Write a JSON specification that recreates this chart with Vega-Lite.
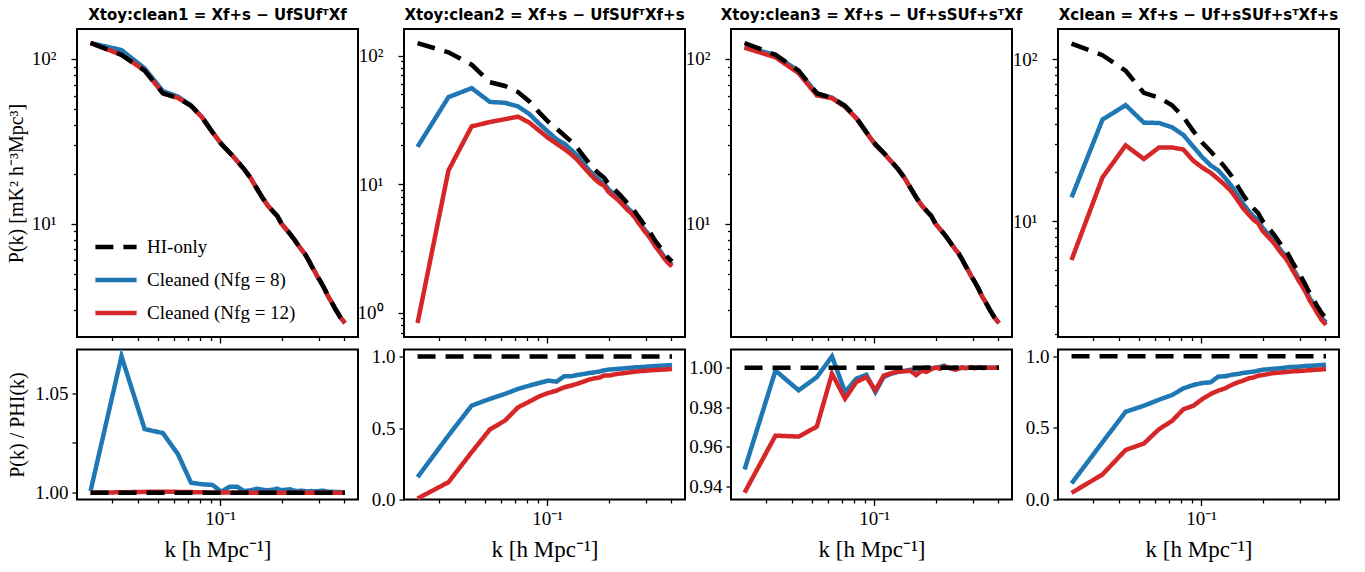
{
"$schema": "https://vega.github.io/schema/vega-lite/v6.json",
"background": "white",
"padding": {"left": 5, "top": 7, "right": 5, "bottom": 5},
"columns": 4,
"bounds": "flush",
"spacing": {"row": 12.5, "column": 46},
"resolve": {"scale": {"color": "independent", "strokeDash": "independent"}, "legend": {"color": "independent", "strokeDash": "independent"}},
"config": {
  "view": {"stroke": "black", "strokeWidth": 2},
  "axis": {"domain": false, "grid": false, "tickColor": "black", "tickWidth": 1.3, "labelFont": "Liberation Serif", "labelFontSize": 19, "labelColor": "black", "labelPadding": 4, "titleFont": "Liberation Serif", "titleColor": "black", "titleFontWeight": "normal", "titleFontSize": 20, "labelOverlap": false, "labelFlush": false, "labelBound": false},
  "title": {"font": "DejaVu Sans", "fontSize": 15, "fontWeight": "bold", "color": "black", "offset": 6},
  "line": {"strokeWidth": 4.5, "strokeCap": "butt", "clip": true}
},
"datasets": {
"top": [
{"p":1,"k":0.0235,"h":125,"b":125.1,"r":125},
{"p":1,"k":0.0332,"h":106,"b":113.3,"r":106},
{"p":1,"k":0.0430,"h":85,"b":87.7,"r":85.03},
{"p":1,"k":0.0527,"h":62,"b":63.9,"r":62.03},
{"p":1,"k":0.0624,"h":58,"b":59.1,"r":58.02},
{"p":1,"k":0.0722,"h":52,"b":52.3,"r":52},
{"p":1,"k":0.0819,"h":44,"b":44.2,"r":44},
{"p":1,"k":0.0916,"h":36,"b":36.1,"r":36},
{"p":1,"k":0.1013,"h":30.5,"b":30.5,"r":30.5},
{"p":1,"k":0.1111,"h":27,"b":27.1,"r":27},
{"p":1,"k":0.1208,"h":24,"b":24.1,"r":24},
{"p":1,"k":0.1305,"h":21.5,"b":21.5,"r":21.5},
{"p":1,"k":0.1403,"h":19,"b":19,"r":19},
{"p":1,"k":0.1500,"h":16.5,"b":16.5,"r":16.5},
{"p":1,"k":0.1597,"h":14.5,"b":14.5,"r":14.5},
{"p":1,"k":0.1695,"h":13,"b":13,"r":13},
{"p":1,"k":0.1792,"h":12,"b":12,"r":12},
{"p":1,"k":0.1889,"h":11.2,"b":11.2,"r":11.2},
{"p":1,"k":0.1986,"h":10,"b":10,"r":10},
{"p":1,"k":0.2084,"h":9.3,"b":9.3,"r":9.3},
{"p":1,"k":0.2181,"h":8.7,"b":8.7,"r":8.7},
{"p":1,"k":0.2278,"h":8.1,"b":8.1,"r":8.1},
{"p":1,"k":0.2376,"h":7.5,"b":7.5,"r":7.5},
{"p":1,"k":0.2473,"h":7.0,"b":7.0,"r":7.0},
{"p":1,"k":0.2570,"h":6.6,"b":6.6,"r":6.6},
{"p":1,"k":0.2668,"h":6.1,"b":6.1,"r":6.1},
{"p":1,"k":0.2765,"h":5.6,"b":5.6,"r":5.6},
{"p":1,"k":0.2862,"h":5.2,"b":5.2,"r":5.2},
{"p":1,"k":0.2959,"h":4.8,"b":4.8,"r":4.8},
{"p":1,"k":0.3057,"h":4.5,"b":4.5,"r":4.5},
{"p":1,"k":0.3154,"h":4.2,"b":4.2,"r":4.2},
{"p":1,"k":0.3251,"h":3.9,"b":3.9,"r":3.9},
{"p":1,"k":0.3349,"h":3.6,"b":3.6,"r":3.6},
{"p":1,"k":0.3446,"h":3.4,"b":3.4,"r":3.4},
{"p":1,"k":0.3543,"h":3.2,"b":3.2,"r":3.2},
{"p":1,"k":0.3641,"h":3.0,"b":3.0,"r":3.0},
{"p":1,"k":0.3738,"h":2.85,"b":2.85,"r":2.85},
{"p":1,"k":0.3835,"h":2.7,"b":2.7,"r":2.7},
{"p":1,"k":0.3932,"h":2.6,"b":2.6,"r":2.6},
{"p":1,"k":0.4030,"h":2.5,"b":2.5,"r":2.5},
{"p":2,"k":0.0235,"h":125,"b":19.5,"r":0.83},
{"p":2,"k":0.0332,"h":106,"b":47.5,"r":12.8},
{"p":2,"k":0.0430,"h":85,"b":55.8,"r":28.1},
{"p":2,"k":0.0527,"h":62,"b":43.6,"r":30.4},
{"p":2,"k":0.0624,"h":58,"b":42.9,"r":32.0},
{"p":2,"k":0.0722,"h":52,"b":40.2,"r":33.5},
{"p":2,"k":0.0819,"h":44,"b":35.1,"r":30.1},
{"p":2,"k":0.0916,"h":36,"b":29.4,"r":26.0},
{"p":2,"k":0.1013,"h":30.5,"b":25.4,"r":22.8},
{"p":2,"k":0.1111,"h":27,"b":22.3,"r":20.6},
{"p":2,"k":0.1208,"h":24,"b":20.7,"r":18.8},
{"p":2,"k":0.1305,"h":21.5,"b":18.5,"r":17.1},
{"p":2,"k":0.1403,"h":19,"b":16.6,"r":15.4},
{"p":2,"k":0.1500,"h":16.5,"b":14.5,"r":13.6},
{"p":2,"k":0.1597,"h":14.5,"b":12.8,"r":12.2},
{"p":2,"k":0.1695,"h":13,"b":11.6,"r":11.0},
{"p":2,"k":0.1792,"h":12,"b":10.7,"r":10.2},
{"p":2,"k":0.1889,"h":11.2,"b":10.1,"r":9.71},
{"p":2,"k":0.1986,"h":10,"b":9.09,"r":8.67},
{"p":2,"k":0.2084,"h":9.3,"b":8.47,"r":8.12},
{"p":2,"k":0.2181,"h":8.7,"b":7.95,"r":7.65},
{"p":2,"k":0.2278,"h":8.1,"b":7.42,"r":7.14},
{"p":2,"k":0.2376,"h":7.5,"b":6.89,"r":6.64},
{"p":2,"k":0.2473,"h":7.0,"b":6.44,"r":6.22},
{"p":2,"k":0.2570,"h":6.6,"b":6.09,"r":5.88},
{"p":2,"k":0.2668,"h":6.1,"b":5.64,"r":5.46},
{"p":2,"k":0.2765,"h":5.6,"b":5.19,"r":5.02},
{"p":2,"k":0.2862,"h":5.2,"b":4.82,"r":4.67},
{"p":2,"k":0.2959,"h":4.8,"b":4.45,"r":4.32},
{"p":2,"k":0.3057,"h":4.5,"b":4.19,"r":4.06},
{"p":2,"k":0.3154,"h":4.2,"b":3.91,"r":3.80},
{"p":2,"k":0.3251,"h":3.9,"b":3.64,"r":3.53},
{"p":2,"k":0.3349,"h":3.6,"b":3.36,"r":3.26},
{"p":2,"k":0.3446,"h":3.4,"b":3.18,"r":3.08},
{"p":2,"k":0.3543,"h":3.2,"b":3.00,"r":2.91},
{"p":2,"k":0.3641,"h":3.0,"b":2.81,"r":2.73},
{"p":2,"k":0.3738,"h":2.85,"b":2.67,"r":2.59},
{"p":2,"k":0.3835,"h":2.7,"b":2.54,"r":2.46},
{"p":2,"k":0.3932,"h":2.6,"b":2.44,"r":2.37},
{"p":2,"k":0.4030,"h":2.5,"b":2.36,"r":2.29},
{"p":3,"k":0.0235,"h":125,"b":118.6,"r":117.1},
{"p":3,"k":0.0332,"h":106,"b":105.9,"r":102.4},
{"p":3,"k":0.0430,"h":85,"b":84.0,"r":82.0},
{"p":3,"k":0.0527,"h":62,"b":61.7,"r":60.2},
{"p":3,"k":0.0624,"h":58,"b":58.3,"r":57.8},
{"p":3,"k":0.0722,"h":52,"b":51.4,"r":51.2},
{"p":3,"k":0.0819,"h":44,"b":43.8,"r":43.7},
{"p":3,"k":0.0916,"h":36,"b":35.9,"r":35.8},
{"p":3,"k":0.1013,"h":30.5,"b":30.1,"r":30.2},
{"p":3,"k":0.1111,"h":27,"b":26.9,"r":26.9},
{"p":3,"k":0.1208,"h":24,"b":23.9,"r":23.9},
{"p":3,"k":0.1305,"h":21.5,"b":21.5,"r":21.5},
{"p":3,"k":0.1403,"h":19,"b":19,"r":19},
{"p":3,"k":0.1500,"h":16.5,"b":16.5,"r":16.5},
{"p":3,"k":0.1597,"h":14.5,"b":14.5,"r":14.4},
{"p":3,"k":0.1695,"h":13,"b":13,"r":13},
{"p":3,"k":0.1792,"h":12,"b":12,"r":12},
{"p":3,"k":0.1889,"h":11.2,"b":11.2,"r":11.2},
{"p":3,"k":0.1986,"h":10,"b":10,"r":10},
{"p":3,"k":0.2084,"h":9.3,"b":9.3,"r":9.3},
{"p":3,"k":0.2181,"h":8.7,"b":8.7,"r":8.7},
{"p":3,"k":0.2278,"h":8.1,"b":8.1,"r":8.1},
{"p":3,"k":0.2376,"h":7.5,"b":7.5,"r":7.5},
{"p":3,"k":0.2473,"h":7.0,"b":7.0,"r":7.0},
{"p":3,"k":0.2570,"h":6.6,"b":6.6,"r":6.6},
{"p":3,"k":0.2668,"h":6.1,"b":6.1,"r":6.1},
{"p":3,"k":0.2765,"h":5.6,"b":5.6,"r":5.6},
{"p":3,"k":0.2862,"h":5.2,"b":5.2,"r":5.2},
{"p":3,"k":0.2959,"h":4.8,"b":4.8,"r":4.8},
{"p":3,"k":0.3057,"h":4.5,"b":4.5,"r":4.5},
{"p":3,"k":0.3154,"h":4.2,"b":4.2,"r":4.2},
{"p":3,"k":0.3251,"h":3.9,"b":3.9,"r":3.9},
{"p":3,"k":0.3349,"h":3.6,"b":3.6,"r":3.6},
{"p":3,"k":0.3446,"h":3.4,"b":3.4,"r":3.4},
{"p":3,"k":0.3543,"h":3.2,"b":3.2,"r":3.2},
{"p":3,"k":0.3641,"h":3.0,"b":3.0,"r":3.0},
{"p":3,"k":0.3738,"h":2.85,"b":2.85,"r":2.85},
{"p":3,"k":0.3835,"h":2.7,"b":2.7,"r":2.7},
{"p":3,"k":0.3932,"h":2.6,"b":2.6,"r":2.6},
{"p":3,"k":0.4030,"h":2.5,"b":2.5,"r":2.5},
{"p":4,"k":0.0235,"h":125,"b":14.0,"r":5.75},
{"p":4,"k":0.0332,"h":106,"b":42.4,"r":18.6},
{"p":4,"k":0.0430,"h":85,"b":52.1,"r":29.4},
{"p":4,"k":0.0527,"h":62,"b":40.6,"r":24.2},
{"p":4,"k":0.0624,"h":58,"b":40.4,"r":28.5},
{"p":4,"k":0.0722,"h":52,"b":38.0,"r":28.5},
{"p":4,"k":0.0819,"h":44,"b":34.1,"r":27.7},
{"p":4,"k":0.0916,"h":36,"b":28.8,"r":23.6},
{"p":4,"k":0.1013,"h":30.5,"b":24.8,"r":21.4},
{"p":4,"k":0.1111,"h":27,"b":22.1,"r":19.9},
{"p":4,"k":0.1208,"h":24,"b":20.6,"r":18.2},
{"p":4,"k":0.1305,"h":21.5,"b":18.5,"r":16.7},
{"p":4,"k":0.1403,"h":19,"b":16.5,"r":15.2},
{"p":4,"k":0.1500,"h":16.5,"b":14.5,"r":13.5},
{"p":4,"k":0.1597,"h":14.5,"b":12.8,"r":12.0},
{"p":4,"k":0.1695,"h":13,"b":11.6,"r":11.0},
{"p":4,"k":0.1792,"h":12,"b":10.7,"r":10.2},
{"p":4,"k":0.1889,"h":11.2,"b":10.1,"r":9.69},
{"p":4,"k":0.1986,"h":10,"b":9.07,"r":8.70},
{"p":4,"k":0.2084,"h":9.3,"b":8.45,"r":8.14},
{"p":4,"k":0.2181,"h":8.7,"b":7.93,"r":7.66},
{"p":4,"k":0.2278,"h":8.1,"b":7.40,"r":7.16},
{"p":4,"k":0.2376,"h":7.5,"b":6.87,"r":6.65},
{"p":4,"k":0.2473,"h":7.0,"b":6.43,"r":6.22},
{"p":4,"k":0.2570,"h":6.6,"b":6.09,"r":5.88},
{"p":4,"k":0.2668,"h":6.1,"b":5.64,"r":5.45},
{"p":4,"k":0.2765,"h":5.6,"b":5.19,"r":5.01},
{"p":4,"k":0.2862,"h":5.2,"b":4.82,"r":4.66},
{"p":4,"k":0.2959,"h":4.8,"b":4.45,"r":4.31},
{"p":4,"k":0.3057,"h":4.5,"b":4.19,"r":4.05},
{"p":4,"k":0.3154,"h":4.2,"b":3.91,"r":3.78},
{"p":4,"k":0.3251,"h":3.9,"b":3.64,"r":3.52},
{"p":4,"k":0.3349,"h":3.6,"b":3.36,"r":3.25},
{"p":4,"k":0.3446,"h":3.4,"b":3.18,"r":3.07},
{"p":4,"k":0.3543,"h":3.2,"b":3.00,"r":2.90},
{"p":4,"k":0.3641,"h":3.0,"b":2.81,"r":2.72},
{"p":4,"k":0.3738,"h":2.85,"b":2.67,"r":2.59},
{"p":4,"k":0.3835,"h":2.7,"b":2.54,"r":2.45},
{"p":4,"k":0.3932,"h":2.6,"b":2.44,"r":2.37},
{"p":4,"k":0.4030,"h":2.5,"b":2.36,"r":2.28}
],
"bot": [
{"p":1,"k":0.0235,"h":1,"b":1.0008,"r":1.0},
{"p":1,"k":0.0332,"h":1,"b":1.0684,"r":1.0002},
{"p":1,"k":0.0430,"h":1,"b":1.0319,"r":1.0004},
{"p":1,"k":0.0527,"h":1,"b":1.0299,"r":1.0005},
{"p":1,"k":0.0624,"h":1,"b":1.0193,"r":1.0004},
{"p":1,"k":0.0722,"h":1,"b":1.005,"r":1.0003},
{"p":1,"k":0.0819,"h":1,"b":1.0042,"r":1.0002},
{"p":1,"k":0.0916,"h":1,"b":1.0039,"r":1.0001},
{"p":1,"k":0.1013,"h":1,"b":1.0005,"r":1.0001},
{"p":1,"k":0.1111,"h":1,"b":1.003,"r":1.0001},
{"p":1,"k":0.1208,"h":1,"b":1.003,"r":1.0},
{"p":1,"k":0.1305,"h":1,"b":1.0008,"r":1.0},
{"p":1,"k":0.1403,"h":1,"b":1.0012,"r":1.0},
{"p":1,"k":0.1500,"h":1,"b":1.002,"r":1.0},
{"p":1,"k":0.1597,"h":1,"b":1.0015,"r":1.0},
{"p":1,"k":0.1695,"h":1,"b":1.0012,"r":1.0},
{"p":1,"k":0.1792,"h":1,"b":1.0015,"r":1.0},
{"p":1,"k":0.1889,"h":1,"b":1.002,"r":1.0},
{"p":1,"k":0.1986,"h":1,"b":1.0012,"r":1.0},
{"p":1,"k":0.2084,"h":1,"b":1.0015,"r":1.0},
{"p":1,"k":0.2181,"h":1,"b":1.0017,"r":1.0},
{"p":1,"k":0.2278,"h":1,"b":1.001,"r":1.0},
{"p":1,"k":0.2376,"h":1,"b":1.0008,"r":1.0},
{"p":1,"k":0.2473,"h":1,"b":1.001,"r":1.0},
{"p":1,"k":0.2570,"h":1,"b":1.0008,"r":1.0},
{"p":1,"k":0.2668,"h":1,"b":1.0006,"r":1.0},
{"p":1,"k":0.2765,"h":1,"b":1.0008,"r":1.0},
{"p":1,"k":0.2862,"h":1,"b":1.0006,"r":1.0},
{"p":1,"k":0.2959,"h":1,"b":1.0007,"r":1.0},
{"p":1,"k":0.3057,"h":1,"b":1.0009,"r":1.0},
{"p":1,"k":0.3154,"h":1,"b":1.001,"r":1.0},
{"p":1,"k":0.3251,"h":1,"b":1.0006,"r":1.0},
{"p":1,"k":0.3349,"h":1,"b":1.0005,"r":1.0},
{"p":1,"k":0.3446,"h":1,"b":1.0005,"r":1.0},
{"p":1,"k":0.3543,"h":1,"b":1.0004,"r":1.0},
{"p":1,"k":0.3641,"h":1,"b":1.0004,"r":1.0},
{"p":1,"k":0.3738,"h":1,"b":1.0003,"r":1.0},
{"p":1,"k":0.3835,"h":1,"b":1.0003,"r":1.0},
{"p":1,"k":0.3932,"h":1,"b":1.0002,"r":1.0},
{"p":1,"k":0.4030,"h":1,"b":1.0002,"r":1.0},
{"p":2,"k":0.0235,"h":1,"b":0.156,"r":0.0066},
{"p":2,"k":0.0332,"h":1,"b":0.448,"r":0.121},
{"p":2,"k":0.0430,"h":1,"b":0.657,"r":0.331},
{"p":2,"k":0.0527,"h":1,"b":0.704,"r":0.49},
{"p":2,"k":0.0624,"h":1,"b":0.739,"r":0.552},
{"p":2,"k":0.0722,"h":1,"b":0.774,"r":0.645},
{"p":2,"k":0.0819,"h":1,"b":0.797,"r":0.685},
{"p":2,"k":0.0916,"h":1,"b":0.816,"r":0.722},
{"p":2,"k":0.1013,"h":1,"b":0.832,"r":0.746},
{"p":2,"k":0.1111,"h":1,"b":0.825,"r":0.762},
{"p":2,"k":0.1208,"h":1,"b":0.862,"r":0.785},
{"p":2,"k":0.1305,"h":1,"b":0.862,"r":0.797},
{"p":2,"k":0.1403,"h":1,"b":0.872,"r":0.81},
{"p":2,"k":0.1500,"h":1,"b":0.878,"r":0.825},
{"p":2,"k":0.1597,"h":1,"b":0.885,"r":0.839},
{"p":2,"k":0.1695,"h":1,"b":0.89,"r":0.848},
{"p":2,"k":0.1792,"h":1,"b":0.895,"r":0.853},
{"p":2,"k":0.1889,"h":1,"b":0.904,"r":0.867},
{"p":2,"k":0.1986,"h":1,"b":0.909,"r":0.867},
{"p":2,"k":0.2084,"h":1,"b":0.911,"r":0.873},
{"p":2,"k":0.2181,"h":1,"b":0.914,"r":0.879},
{"p":2,"k":0.2278,"h":1,"b":0.916,"r":0.882},
{"p":2,"k":0.2376,"h":1,"b":0.918,"r":0.885},
{"p":2,"k":0.2473,"h":1,"b":0.92,"r":0.888},
{"p":2,"k":0.2570,"h":1,"b":0.922,"r":0.891},
{"p":2,"k":0.2668,"h":1,"b":0.925,"r":0.895},
{"p":2,"k":0.2765,"h":1,"b":0.926,"r":0.897},
{"p":2,"k":0.2862,"h":1,"b":0.927,"r":0.899},
{"p":2,"k":0.2959,"h":1,"b":0.928,"r":0.9},
{"p":2,"k":0.3057,"h":1,"b":0.93,"r":0.902},
{"p":2,"k":0.3154,"h":1,"b":0.932,"r":0.904},
{"p":2,"k":0.3251,"h":1,"b":0.933,"r":0.905},
{"p":2,"k":0.3349,"h":1,"b":0.934,"r":0.906},
{"p":2,"k":0.3446,"h":1,"b":0.935,"r":0.907},
{"p":2,"k":0.3543,"h":1,"b":0.936,"r":0.908},
{"p":2,"k":0.3641,"h":1,"b":0.937,"r":0.909},
{"p":2,"k":0.3738,"h":1,"b":0.938,"r":0.91},
{"p":2,"k":0.3835,"h":1,"b":0.939,"r":0.911},
{"p":2,"k":0.3932,"h":1,"b":0.94,"r":0.912},
{"p":2,"k":0.4030,"h":1,"b":0.942,"r":0.914},
{"p":3,"k":0.0235,"h":1,"b":0.9484,"r":0.9367},
{"p":3,"k":0.0332,"h":1,"b":0.9986,"r":0.9656},
{"p":3,"k":0.0430,"h":1,"b":0.9886,"r":0.9651},
{"p":3,"k":0.0527,"h":1,"b":0.9953,"r":0.9702},
{"p":3,"k":0.0624,"h":1,"b":1.0058,"r":0.997},
{"p":3,"k":0.0722,"h":1,"b":0.9877,"r":0.9844},
{"p":3,"k":0.0819,"h":1,"b":0.9945,"r":0.9928},
{"p":3,"k":0.0916,"h":1,"b":0.9965,"r":0.9953},
{"p":3,"k":0.1013,"h":1,"b":0.9877,"r":0.9886},
{"p":3,"k":0.1111,"h":1,"b":0.9953,"r":0.996},
{"p":3,"k":0.1208,"h":1,"b":0.997,"r":0.9973},
{"p":3,"k":0.1305,"h":1,"b":0.998,"r":0.998},
{"p":3,"k":0.1403,"h":1,"b":0.9985,"r":0.9983},
{"p":3,"k":0.1500,"h":1,"b":0.999,"r":0.9985},
{"p":3,"k":0.1597,"h":1,"b":0.9992,"r":0.9963},
{"p":3,"k":0.1695,"h":1,"b":0.9995,"r":0.9985},
{"p":3,"k":0.1792,"h":1,"b":1.0003,"r":0.998},
{"p":3,"k":0.1889,"h":1,"b":0.9998,"r":0.9993},
{"p":3,"k":0.1986,"h":1,"b":1.0,"r":1.0002},
{"p":3,"k":0.2084,"h":1,"b":1.0005,"r":0.9995},
{"p":3,"k":0.2181,"h":1,"b":1.0011,"r":1.0007},
{"p":3,"k":0.2278,"h":1,"b":1.0,"r":1.0003},
{"p":3,"k":0.2376,"h":1,"b":0.9998,"r":0.9995},
{"p":3,"k":0.2473,"h":1,"b":1.0003,"r":0.999},
{"p":3,"k":0.2570,"h":1,"b":1.0,"r":0.9996},
{"p":3,"k":0.2668,"h":1,"b":0.9999,"r":1.0003},
{"p":3,"k":0.2765,"h":1,"b":1.0001,"r":0.9998},
{"p":3,"k":0.2862,"h":1,"b":1.0,"r":1.0},
{"p":3,"k":0.2959,"h":1,"b":1.0,"r":1.0004},
{"p":3,"k":0.3057,"h":1,"b":1.0,"r":0.9998},
{"p":3,"k":0.3154,"h":1,"b":1.0,"r":1.0},
{"p":3,"k":0.3251,"h":1,"b":1.0,"r":1.0003},
{"p":3,"k":0.3349,"h":1,"b":1.0,"r":0.9999},
{"p":3,"k":0.3446,"h":1,"b":1.0,"r":1.0},
{"p":3,"k":0.3543,"h":1,"b":1.0,"r":1.0001},
{"p":3,"k":0.3641,"h":1,"b":1.0,"r":1.0},
{"p":3,"k":0.3738,"h":1,"b":1.0,"r":1.0},
{"p":3,"k":0.3835,"h":1,"b":1.0,"r":1.0},
{"p":3,"k":0.3932,"h":1,"b":1.0,"r":1.0},
{"p":3,"k":0.4030,"h":1,"b":1.0,"r":1.0},
{"p":4,"k":0.0235,"h":1,"b":0.112,"r":0.046},
{"p":4,"k":0.0332,"h":1,"b":0.40,"r":0.175},
{"p":4,"k":0.0430,"h":1,"b":0.613,"r":0.346},
{"p":4,"k":0.0527,"h":1,"b":0.655,"r":0.391},
{"p":4,"k":0.0624,"h":1,"b":0.697,"r":0.491},
{"p":4,"k":0.0722,"h":1,"b":0.73,"r":0.549},
{"p":4,"k":0.0819,"h":1,"b":0.776,"r":0.63},
{"p":4,"k":0.0916,"h":1,"b":0.80,"r":0.655},
{"p":4,"k":0.1013,"h":1,"b":0.814,"r":0.702},
{"p":4,"k":0.1111,"h":1,"b":0.819,"r":0.737},
{"p":4,"k":0.1208,"h":1,"b":0.858,"r":0.76},
{"p":4,"k":0.1305,"h":1,"b":0.861,"r":0.776},
{"p":4,"k":0.1403,"h":1,"b":0.871,"r":0.80},
{"p":4,"k":0.1500,"h":1,"b":0.877,"r":0.818},
{"p":4,"k":0.1597,"h":1,"b":0.884,"r":0.83},
{"p":4,"k":0.1695,"h":1,"b":0.889,"r":0.846},
{"p":4,"k":0.1792,"h":1,"b":0.893,"r":0.853},
{"p":4,"k":0.1889,"h":1,"b":0.90,"r":0.865},
{"p":4,"k":0.1986,"h":1,"b":0.907,"r":0.87},
{"p":4,"k":0.2084,"h":1,"b":0.909,"r":0.875},
{"p":4,"k":0.2181,"h":1,"b":0.912,"r":0.881},
{"p":4,"k":0.2278,"h":1,"b":0.914,"r":0.884},
{"p":4,"k":0.2376,"h":1,"b":0.916,"r":0.886},
{"p":4,"k":0.2473,"h":1,"b":0.919,"r":0.889},
{"p":4,"k":0.2570,"h":1,"b":0.922,"r":0.891},
{"p":4,"k":0.2668,"h":1,"b":0.925,"r":0.893},
{"p":4,"k":0.2765,"h":1,"b":0.926,"r":0.895},
{"p":4,"k":0.2862,"h":1,"b":0.927,"r":0.896},
{"p":4,"k":0.2959,"h":1,"b":0.928,"r":0.897},
{"p":4,"k":0.3057,"h":1,"b":0.93,"r":0.899},
{"p":4,"k":0.3154,"h":1,"b":0.932,"r":0.9},
{"p":4,"k":0.3251,"h":1,"b":0.933,"r":0.902},
{"p":4,"k":0.3349,"h":1,"b":0.934,"r":0.903},
{"p":4,"k":0.3446,"h":1,"b":0.935,"r":0.904},
{"p":4,"k":0.3543,"h":1,"b":0.936,"r":0.906},
{"p":4,"k":0.3641,"h":1,"b":0.937,"r":0.907},
{"p":4,"k":0.3738,"h":1,"b":0.938,"r":0.908},
{"p":4,"k":0.3835,"h":1,"b":0.939,"r":0.909},
{"p":4,"k":0.3932,"h":1,"b":0.94,"r":0.91},
{"p":4,"k":0.4030,"h":1,"b":0.942,"r":0.912}
]
},
"concat": [
{
 "width": 281, "height": 308,
 "title": "Xtoy:clean1 = Xf+s − UfSUfᵀXf",
 "data": {"name": "top"},
 "transform": [{"filter": "datum.p==1"}, {"fold": ["h","b","r"], "as": ["s","v"]}],
 "encoding": {
  "x": {"field": "k", "type": "quantitative", "scale": {"type": "log", "domain": [0.0202, 0.466], "nice": false}, "axis": {"values": [0.03,0.04,0.05,0.06,0.07,0.08,0.09,0.1,0.2,0.3,0.4], "labels": false, "title": null, "tickSize": {"condition": {"test": "abs(datum.value-0.1)<1e-9", "value": 6}, "value": 3.5}}},
  "y": {"field": "v", "type": "quantitative", "scale": {"type": "log", "domain": [2.06, 152], "nice": false}, "axis": {"values": [3,4,5,6,7,8,9,10,20,30,40,50,60,70,80,90,100], "labelExpr": "abs(datum.value-100)<1e-6 ? '10²' : abs(datum.value-10)<1e-6 ? '10¹' : abs(datum.value-1)<1e-6 ? '10⁰' : ''", "tickSize": {"condition": {"test": "abs(datum.value-100)<1e-6 || abs(datum.value-10)<1e-6 || abs(datum.value-1)<1e-6", "value": 6}, "value": 3.5}, "labelPadding": 15, "title": "P(k) [mK² h⁻³Mpc³]", "titlePadding": 5}},
  "color": {"field": "s", "type": "nominal", "scale": {"domain": ["h","b","r"], "range": ["#000000","#1f77b4","#d62728"]}, "legend": {"orient": "none", "legendX": 16, "legendY": 195, "title": null, "symbolType": "stroke", "symbolStrokeWidth": 4.5, "symbolSize": 1700, "labelFont": "Liberation Serif", "labelFontSize": 19, "labelColor": "black", "labelExpr": "datum.label=='h' ? 'HI-only' : datum.label=='b' ? 'Cleaned (Nfg = 8)' : 'Cleaned (Nfg = 12)'", "rowPadding": -20, "labelOffset": 8, "padding": 0}},
  "strokeDash": {"field": "s", "type": "nominal", "scale": {"domain": ["h","b","r"], "range": [[18,10],[1,0],[1,0]]}, "legend": {"orient": "none", "legendX": 16, "legendY": 195, "title": null, "symbolType": "stroke", "symbolStrokeWidth": 4.5, "symbolSize": 1700, "labelFont": "Liberation Serif", "labelFontSize": 19, "labelColor": "black", "labelExpr": "datum.label=='h' ? 'HI-only' : datum.label=='b' ? 'Cleaned (Nfg = 8)' : 'Cleaned (Nfg = 12)'", "rowPadding": -20, "labelOffset": 8, "padding": 0}}
 },
 "layer": [
  {"transform": [{"filter": "datum.s=='b'"}], "mark": {"type": "line"}},
  {"transform": [{"filter": "datum.s=='r'"}], "mark": {"type": "line"}},
  {"transform": [{"filter": "datum.s=='h'"}], "mark": {"type": "line"}}
 ]
},
{
 "width": 281, "height": 308,
 "title": "Xtoy:clean2 = Xf+s − UfSUfᵀXf+s",
 "data": {"name": "top"},
 "transform": [{"filter": "datum.p==2"}, {"fold": ["h","b","r"], "as": ["s","v"]}],
 "encoding": {
  "x": {"field": "k", "type": "quantitative", "scale": {"type": "log", "domain": [0.0202, 0.466], "nice": false}, "axis": {"values": [0.03,0.04,0.05,0.06,0.07,0.08,0.09,0.1,0.2,0.3,0.4], "labels": false, "title": null, "tickSize": {"condition": {"test": "abs(datum.value-0.1)<1e-9", "value": 6}, "value": 3.5}}},
  "y": {"field": "v", "type": "quantitative", "scale": {"type": "log", "domain": [0.646, 161], "nice": false}, "axis": {"values": [0.7,0.8,0.9,1,2,3,4,5,6,7,8,9,10,20,30,40,50,60,70,80,90,100], "labelExpr": "abs(datum.value-100)<1e-6 ? '10²' : abs(datum.value-10)<1e-6 ? '10¹' : abs(datum.value-1)<1e-6 ? '10⁰' : ''", "tickSize": {"condition": {"test": "abs(datum.value-100)<1e-6 || abs(datum.value-10)<1e-6 || abs(datum.value-1)<1e-6", "value": 6}, "value": 3.5}, "labelPadding": 15, "title": null}},
  "color": {"field": "s", "type": "nominal", "scale": {"domain": ["h","b","r"], "range": ["#000000","#1f77b4","#d62728"]}, "legend": null},
  "strokeDash": {"field": "s", "type": "nominal", "scale": {"domain": ["h","b","r"], "range": [[18,10],[1,0],[1,0]]}, "legend": null}
 },
 "layer": [
  {"transform": [{"filter": "datum.s=='b'"}], "mark": {"type": "line"}},
  {"transform": [{"filter": "datum.s=='r'"}], "mark": {"type": "line"}},
  {"transform": [{"filter": "datum.s=='h'"}], "mark": {"type": "line"}}
 ]
},
{
 "width": 281, "height": 308,
 "title": "Xtoy:clean3 = Xf+s − Uf+sSUf+sᵀXf",
 "data": {"name": "top"},
 "transform": [{"filter": "datum.p==3"}, {"fold": ["h","b","r"], "as": ["s","v"]}],
 "encoding": {
  "x": {"field": "k", "type": "quantitative", "scale": {"type": "log", "domain": [0.0202, 0.466], "nice": false}, "axis": {"values": [0.03,0.04,0.05,0.06,0.07,0.08,0.09,0.1,0.2,0.3,0.4], "labels": false, "title": null, "tickSize": {"condition": {"test": "abs(datum.value-0.1)<1e-9", "value": 6}, "value": 3.5}}},
  "y": {"field": "v", "type": "quantitative", "scale": {"type": "log", "domain": [2.06, 152], "nice": false}, "axis": {"values": [3,4,5,6,7,8,9,10,20,30,40,50,60,70,80,90,100], "labelExpr": "abs(datum.value-100)<1e-6 ? '10²' : abs(datum.value-10)<1e-6 ? '10¹' : abs(datum.value-1)<1e-6 ? '10⁰' : ''", "tickSize": {"condition": {"test": "abs(datum.value-100)<1e-6 || abs(datum.value-10)<1e-6 || abs(datum.value-1)<1e-6", "value": 6}, "value": 3.5}, "labelPadding": 15, "title": null}},
  "color": {"field": "s", "type": "nominal", "scale": {"domain": ["h","b","r"], "range": ["#000000","#1f77b4","#d62728"]}, "legend": null},
  "strokeDash": {"field": "s", "type": "nominal", "scale": {"domain": ["h","b","r"], "range": [[18,10],[1,0],[1,0]]}, "legend": null}
 },
 "layer": [
  {"transform": [{"filter": "datum.s=='b'"}], "mark": {"type": "line"}},
  {"transform": [{"filter": "datum.s=='r'"}], "mark": {"type": "line"}},
  {"transform": [{"filter": "datum.s=='h'"}], "mark": {"type": "line"}}
 ]
},
{
 "width": 281, "height": 308,
 "title": "Xclean = Xf+s − Uf+sSUf+sᵀXf+s",
 "data": {"name": "top"},
 "transform": [{"filter": "datum.p==4"}, {"fold": ["h","b","r"], "as": ["s","v"]}],
 "encoding": {
  "x": {"field": "k", "type": "quantitative", "scale": {"type": "log", "domain": [0.0202, 0.466], "nice": false}, "axis": {"values": [0.03,0.04,0.05,0.06,0.07,0.08,0.09,0.1,0.2,0.3,0.4], "labels": false, "title": null, "tickSize": {"condition": {"test": "abs(datum.value-0.1)<1e-9", "value": 6}, "value": 3.5}}},
  "y": {"field": "v", "type": "quantitative", "scale": {"type": "log", "domain": [1.92, 154], "nice": false}, "axis": {"values": [2,3,4,5,6,7,8,9,10,20,30,40,50,60,70,80,90,100], "labelExpr": "abs(datum.value-100)<1e-6 ? '10²' : abs(datum.value-10)<1e-6 ? '10¹' : abs(datum.value-1)<1e-6 ? '10⁰' : ''", "tickSize": {"condition": {"test": "abs(datum.value-100)<1e-6 || abs(datum.value-10)<1e-6 || abs(datum.value-1)<1e-6", "value": 6}, "value": 3.5}, "labelPadding": 15, "title": null}},
  "color": {"field": "s", "type": "nominal", "scale": {"domain": ["h","b","r"], "range": ["#000000","#1f77b4","#d62728"]}, "legend": null},
  "strokeDash": {"field": "s", "type": "nominal", "scale": {"domain": ["h","b","r"], "range": [[18,10],[1,0],[1,0]]}, "legend": null}
 },
 "layer": [
  {"transform": [{"filter": "datum.s=='b'"}], "mark": {"type": "line"}},
  {"transform": [{"filter": "datum.s=='r'"}], "mark": {"type": "line"}},
  {"transform": [{"filter": "datum.s=='h'"}], "mark": {"type": "line"}}
 ]
},
{
 "width": 281, "height": 150,
 "data": {"name": "bot"},
 "transform": [{"filter": "datum.p==1"}, {"fold": ["h","b","r"], "as": ["s","v"]}],
 "encoding": {
  "x": {"field": "k", "type": "quantitative", "scale": {"type": "log", "domain": [0.0202, 0.466], "nice": false}, "axis": {"values": [0.03,0.04,0.05,0.06,0.07,0.08,0.09,0.1,0.2,0.3,0.4], "labelExpr": "abs(datum.value-0.1)<1e-9 ? '10⁻¹' : ''", "title": "k [h Mpc⁻¹]", "titleFontSize": 23, "titlePadding": 10, "tickSize": {"condition": {"test": "abs(datum.value-0.1)<1e-9", "value": 6}, "value": 3.5}}},
  "y": {"field": "v", "type": "quantitative", "scale": {"domain": [0.99658, 1.07182], "nice": false, "zero": false}, "axis": {"values": [1.0, 1.025, 1.05], "labelExpr": "abs(datum.value-1.025)<1e-9 ? '' : format(datum.value, '.2f')", "tickSize": 5, "title": "P(k) / PHI(k)", "titlePadding": 7}},
  "color": {"field": "s", "type": "nominal", "scale": {"domain": ["h","b","r"], "range": ["#000000","#1f77b4","#d62728"]}, "legend": null},
  "strokeDash": {"field": "s", "type": "nominal", "scale": {"domain": ["h","b","r"], "range": [[18,10],[1,0],[1,0]]}, "legend": null}
 },
 "layer": [
  {"transform": [{"filter": "datum.s=='b'"}], "mark": {"type": "line"}},
  {"transform": [{"filter": "datum.s=='r'"}], "mark": {"type": "line"}},
  {"transform": [{"filter": "datum.s=='h'"}], "mark": {"type": "line"}}
 ]
},
{
 "width": 281, "height": 150,
 "data": {"name": "bot"},
 "transform": [{"filter": "datum.p==2"}, {"fold": ["h","b","r"], "as": ["s","v"]}],
 "encoding": {
  "x": {"field": "k", "type": "quantitative", "scale": {"type": "log", "domain": [0.0202, 0.466], "nice": false}, "axis": {"values": [0.03,0.04,0.05,0.06,0.07,0.08,0.09,0.1,0.2,0.3,0.4], "labelExpr": "abs(datum.value-0.1)<1e-9 ? '10⁻¹' : ''", "title": "k [h Mpc⁻¹]", "titleFontSize": 23, "titlePadding": 10, "tickSize": {"condition": {"test": "abs(datum.value-0.1)<1e-9", "value": 6}, "value": 3.5}}},
  "y": {"field": "v", "type": "quantitative", "scale": {"domain": [0, 1.0497], "nice": false, "zero": false}, "axis": {"values": [0, 0.5, 1.0], "format": ".1f", "tickSize": 5, "title": null}},
  "color": {"field": "s", "type": "nominal", "scale": {"domain": ["h","b","r"], "range": ["#000000","#1f77b4","#d62728"]}, "legend": null},
  "strokeDash": {"field": "s", "type": "nominal", "scale": {"domain": ["h","b","r"], "range": [[18,10],[1,0],[1,0]]}, "legend": null}
 },
 "layer": [
  {"transform": [{"filter": "datum.s=='b'"}], "mark": {"type": "line"}},
  {"transform": [{"filter": "datum.s=='r'"}], "mark": {"type": "line"}},
  {"transform": [{"filter": "datum.s=='h'"}], "mark": {"type": "line"}}
 ]
},
{
 "width": 281, "height": 150,
 "data": {"name": "bot"},
 "transform": [{"filter": "datum.p==3"}, {"fold": ["h","b","r"], "as": ["s","v"]}],
 "encoding": {
  "x": {"field": "k", "type": "quantitative", "scale": {"type": "log", "domain": [0.0202, 0.466], "nice": false}, "axis": {"values": [0.03,0.04,0.05,0.06,0.07,0.08,0.09,0.1,0.2,0.3,0.4], "labelExpr": "abs(datum.value-0.1)<1e-9 ? '10⁻¹' : ''", "title": "k [h Mpc⁻¹]", "titleFontSize": 23, "titlePadding": 10, "tickSize": {"condition": {"test": "abs(datum.value-0.1)<1e-9", "value": 6}, "value": 3.5}}},
  "y": {"field": "v", "type": "quantitative", "scale": {"domain": [0.9332, 1.0093], "nice": false, "zero": false}, "axis": {"values": [0.94, 0.96, 0.98, 1.0], "format": ".2f", "tickSize": 5, "title": null}},
  "color": {"field": "s", "type": "nominal", "scale": {"domain": ["h","b","r"], "range": ["#000000","#1f77b4","#d62728"]}, "legend": null},
  "strokeDash": {"field": "s", "type": "nominal", "scale": {"domain": ["h","b","r"], "range": [[18,10],[1,0],[1,0]]}, "legend": null}
 },
 "layer": [
  {"transform": [{"filter": "datum.s=='b'"}], "mark": {"type": "line"}},
  {"transform": [{"filter": "datum.s=='r'"}], "mark": {"type": "line"}},
  {"transform": [{"filter": "datum.s=='h'"}], "mark": {"type": "line"}}
 ]
},
{
 "width": 281, "height": 150,
 "data": {"name": "bot"},
 "transform": [{"filter": "datum.p==4"}, {"fold": ["h","b","r"], "as": ["s","v"]}],
 "encoding": {
  "x": {"field": "k", "type": "quantitative", "scale": {"type": "log", "domain": [0.0202, 0.466], "nice": false}, "axis": {"values": [0.03,0.04,0.05,0.06,0.07,0.08,0.09,0.1,0.2,0.3,0.4], "labelExpr": "abs(datum.value-0.1)<1e-9 ? '10⁻¹' : ''", "title": "k [h Mpc⁻¹]", "titleFontSize": 23, "titlePadding": 10, "tickSize": {"condition": {"test": "abs(datum.value-0.1)<1e-9", "value": 6}, "value": 3.5}}},
  "y": {"field": "v", "type": "quantitative", "scale": {"domain": [0, 1.048], "nice": false, "zero": false}, "axis": {"values": [0, 0.5, 1.0], "format": ".1f", "tickSize": 5, "title": null}},
  "color": {"field": "s", "type": "nominal", "scale": {"domain": ["h","b","r"], "range": ["#000000","#1f77b4","#d62728"]}, "legend": null},
  "strokeDash": {"field": "s", "type": "nominal", "scale": {"domain": ["h","b","r"], "range": [[18,10],[1,0],[1,0]]}, "legend": null}
 },
 "layer": [
  {"transform": [{"filter": "datum.s=='b'"}], "mark": {"type": "line"}},
  {"transform": [{"filter": "datum.s=='r'"}], "mark": {"type": "line"}},
  {"transform": [{"filter": "datum.s=='h'"}], "mark": {"type": "line"}}
 ]
}
]
}
